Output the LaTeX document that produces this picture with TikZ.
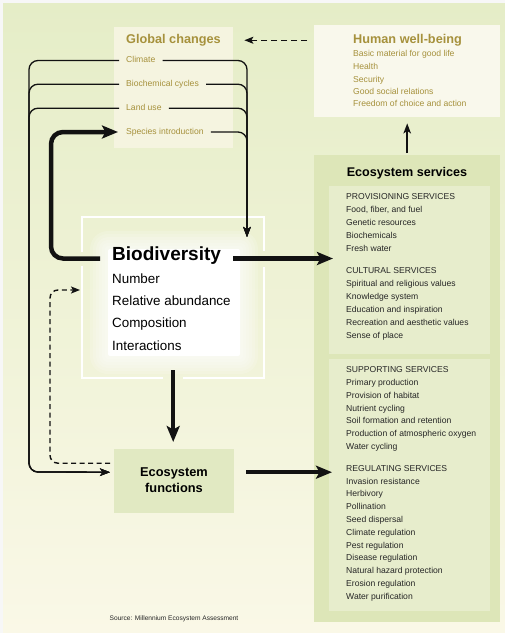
\documentclass[tikz,border=0pt]{standalone}
\usepackage{fontspec}
\setmainfont{Liberation Sans}
\usetikzlibrary{arrows.meta,calc}
\definecolor{bgtop}{RGB}{229,237,199}
\definecolor{bgmid}{RGB}{243,245,222}
\definecolor{bgbot}{RGB}{250,248,231}
\definecolor{olive}{RGB}{166,145,60}
\definecolor{gcfill}{RGB}{245,244,224}
\definecolor{hwbfill}{RGB}{249,248,236}
\definecolor{esout}{RGB}{221,230,184}
\definecolor{esin}{RGB}{231,237,204}
\definecolor{effill}{RGB}{225,233,194}
\definecolor{ink}{RGB}{18,18,18}
\definecolor{svtext}{RGB}{38,38,38}
\begin{document}
\begin{tikzpicture}[x=1pt,y=-1pt,
  thinline/.style={draw=ink, line width=1.3pt, rounded corners=9pt},
  thinarrow/.style={thinline, -{Stealth[length=10pt,width=7.5pt,inset=2.5pt]}},
  medarrow/.style={draw=ink, line width=1.6pt, -{Stealth[length=10pt,width=7.5pt,inset=2.5pt]}},
  thickarrow/.style={draw=ink, line width=4.5pt, rounded corners=12pt, -{Stealth[length=16pt,width=13pt,inset=3.5pt]}},
  dasharrow/.style={draw=ink, line width=1.4pt, dash pattern=on 5pt off 3.5pt, rounded corners=8pt, -{Stealth[length=9pt,width=7pt,inset=2pt]}},
  framew/.style={draw=white, line width=2.5pt},
  panel/.style={anchor=north west, inner sep=0pt, draw=none},
  gctitle/.style={anchor=base west, inner sep=0pt, text=olive, font=\bfseries\fontsize{12.7}{14}\selectfont},
  gcitem/.style={anchor=west, inner sep=0pt, text height=6.2pt, text depth=1.8pt, text=olive, font=\fontsize{8.6}{10}\selectfont},
  hwbitem/.style={anchor=base west, inner sep=0pt, text=olive, font=\fontsize{8.6}{10}\selectfont},
  svitem/.style={anchor=base west, inner sep=0pt, text=svtext, font=\fontsize{8.6}{10}\selectfont},
  bdtitle/.style={anchor=west, inner sep=0pt, text height=13.6pt, text depth=9.6pt, font=\bfseries\fontsize{19}{21}\selectfont},
  bditem/.style={anchor=base west, inner sep=0pt, font=\fontsize{13.4}{15}\selectfont},
  eftext/.style={anchor=base, inner sep=0pt, font=\bfseries\fontsize{12.8}{14}\selectfont},
  estitle/.style={anchor=base, inner sep=0pt, font=\bfseries\fontsize{12.6}{14}\selectfont}
]
\useasboundingbox (0,0) rectangle (505,633);
% background
\fill[white!94!gray] (0,0) rectangle (505,633);
\shade[top color=bgtop, middle color=bgmid, bottom color=bgbot] (3,3) rectangle (505,633);

% boxes
\node[panel, fill=gcfill, minimum width=119pt, minimum height=121pt] (gcbox) at (114,27) {};
\node[panel, fill=hwbfill, minimum width=186pt, minimum height=92pt] (hwbbox) at (314,25) {};
\node[panel, fill=esout, minimum width=186pt, minimum height=467pt] (esbox) at (314,155) {};
\node[panel, fill=esin, minimum width=161pt, minimum height=168pt] (esin1) at (329,186) {};
\node[panel, fill=esin, minimum width=161pt, minimum height=252pt] (esin2) at (329,359) {};
\node[panel, fill=effill, minimum width=120pt, minimum height=64pt] (ef) at (114,449) {};
\node[panel, minimum width=182pt, minimum height=161pt] (bdframe) at (82,217) {};

% biodiversity frame and glow
\draw[framew] (82,252) -- (82,217) -- (264,217) -- (264,251);
\draw[framew] (82,266) -- (82,378) -- (163,378);
\draw[framew] (183,378) -- (264,378) -- (264,267);
\foreach \d in {18,15,12,9,6,3}
  \fill[white, opacity=0.16, rounded corners=\d pt] ({108-\d},{249-\d}) rectangle ({240+\d},{356+\d});
\fill[white, rounded corners=2pt] (108,249) rectangle (240,356);

% Global changes
\node[gctitle] (gct) at (126,43.3) {Global changes};
\node[gcitem] (climate) at (126,60.5) {Climate};
\node[gcitem] (bio) at (126,84.2) {Biochemical cycles};
\node[gcitem] (land) at (126,108.2) {Land use};
\node[gcitem] (species) at (126,132) {Species introduction};

% Human well-being
\node[gctitle] (hwbt) at (353,43.5) {Human well-being};
\node[hwbitem] (h1) at (353,56.3) {Basic material for good life};
\node[hwbitem] (h2) at (353,69) {Health};
\node[hwbitem] (h3) at (353,82) {Security};
\node[hwbitem] (h4) at (353,94) {Good social relations};
\node[hwbitem] (h5) at (353,106.7) {Freedom of choice and action};

% Ecosystem services
\node[estitle] (est) at (407,176) {Ecosystem services};
\foreach \t/\y [count=\i] in {PROVISIONING SERVICES/196.3, {Food, fiber, and fuel}/209.3, Genetic resources/222.2, Biochemicals/235.4, Fresh water/248.3, CULTURAL SERVICES/270, Spiritual and religious values/283.3, Knowledge system/296.2, Education and inspiration/309, Recreation and aesthetic values/322, Sense of place/335}
  \node[svitem] (pa\i) at (346,\y+3) {\t};
\foreach \t/\y [count=\i] in {SUPPORTING SERVICES/369.3, Primary production/382.3, Provision of habitat/395, Nutrient cycling/408.3, Soil formation and retention/420.7, Production of atmospheric oxygen/433.3, Water cycling/446.7, REGULATING SERVICES/468.3, Invasion resistance/481, Herbivory/493.6, Pollination/506.3, Seed dispersal/519.2, Climate regulation/532.2, Pest regulation/545, Disease regulation/557.8, Natural hazard protection/570.8, Erosion regulation/583.4, Water purification/596.5}
  \node[svitem] (pb\i) at (346,\y+3) {\t};

% Biodiversity
\node[bdtitle] (bdt) at (112,258.5) {Biodiversity};
\node[bditem] (b1) at (112,283.3) {Number};
\node[bditem] (b2) at (112,305.7) {Relative abundance};
\node[bditem] (b3) at (112,327.9) {Composition};
\node[bditem] (b4) at (112,350.2) {Interactions};

% Ecosystem functions
\node[eftext] (eft1) at (174,476) {Ecosystem};
\node[eftext] (eft2) at (174,492.7) {functions};

% Source
\node[anchor=base, inner sep=0pt, text=svtext, font=\fontsize{6.6}{8}\selectfont] (src) at (174,620.5) {Source: Millennium Ecosystem Assessment};

% corner coordinates
\coordinate (lc) at (29,472);
\coordinate (rc) at (247,237);
\coordinate (tl) at (51,132);
\coordinate (dl) at (50,290);

% thin lines from global changes, left side to ecosystem functions
\foreach \n in {climate,bio,land}
  \draw[thinarrow] ([xshift=-7pt]\n.west) -- (\n.west -| lc) -- (lc) -- ([xshift=-4pt,yshift=9pt]ef.west);
% right side to biodiversity
\foreach \n in {climate,bio,land,species}
  \draw[thinarrow] ([xshift=7pt]\n.east) -- (\n.east -| rc) -- (rc);

% thick loop biodiversity -> species introduction
\draw[thickarrow] ([xshift=-12pt]bdt.west) -- (bdt.west -| tl) -- (tl) -- ([xshift=-8pt]species.west);
% biodiversity -> ecosystem services
\draw[thickarrow, shorten >=-4pt] ([xshift=12pt]bdt.east) -- (bdt.east -| esin1.west);
% biodiversity -> ecosystem functions
\draw[thickarrow, shorten >=7pt] ([yshift=8pt]bdframe.south) -- (bdframe.south |- ef.north);
% ecosystem functions -> ecosystem services
\draw[thickarrow, shorten >=-3pt] ([xshift=12pt,yshift=9pt]ef.east) -- ([yshift=9pt]ef.east -| esin2.west);
% dashed: ecosystem functions -> biodiversity
\draw[dasharrow, shorten >=2pt] ([xshift=-4pt,yshift=18pt]ef.west) -- ([yshift=18pt]ef.west -| dl) -- (dl) -- (dl -| bdframe.west);
% dashed: human well-being -> global changes
\draw[dasharrow, dash pattern=on 6pt off 4pt, shorten <=7pt, shorten >=11pt] (hwbbox.west |- hwbt.west) -- (gcbox.east |- hwbt.west);
% ecosystem services -> human well-being
\draw[medarrow, shorten <=2pt, shorten >=6pt] (esbox.north) -- (hwbbox.south);
\end{tikzpicture}
\end{document}
